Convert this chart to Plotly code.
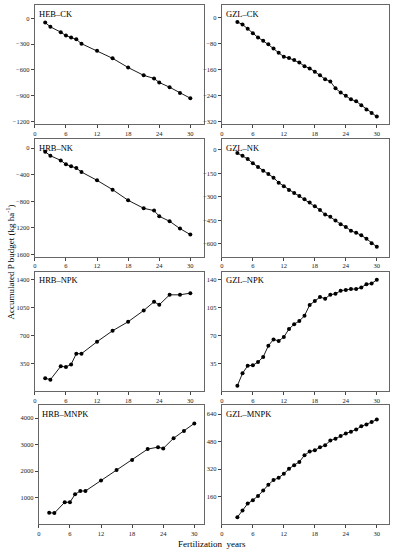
import plotly.graph_objects as go

# ---------------- data ----------------
years_hrb = [2, 3, 5, 6, 7, 8, 9, 12, 15, 18, 21, 23, 24, 26, 28, 30]
years_gzl = list(range(3, 31))

heb_ck = [-50, -100, -162, -202, -225, -245, -296, -379, -466, -573, -664, -700, -747, -802, -870, -930]
hrb_nk = [-55, -115, -185, -245, -275, -300, -360, -485, -625, -785, -905, -940, -1025, -1100, -1210, -1300]
hrb_npk = [163, 146, 313, 304, 337, 471, 471, 621, 758, 871, 1012, 1121, 1083, 1208, 1208, 1229]
hrb_mnpk = [426, 413, 824, 824, 1123, 1248, 1248, 1646, 2045, 2418, 2829, 2904, 2854, 3240, 3514, 3800]

gzl_ck = [-14, -22, -35, -49, -62, -72, -83, -96, -109, -121, -125, -131, -139, -150, -157, -167,
          -178, -190, -197, -218, -231, -241, -252, -258, -270, -283, -294, -305]
gzl_nk = [-21, -38, -59, -87, -110, -134, -155, -178, -210, -233, -257, -276, -295, -316, -337, -360,
          -384, -413, -428, -452, -475, -492, -517, -530, -545, -568, -596, -619]
gzl_npk = [7, 22.5, 32, 32.5, 36.7, 43, 57, 65, 63, 68, 78, 84, 88, 94.6, 108, 113,
           118, 116, 121, 122, 126, 127, 128, 128, 130, 134, 135, 139.6]
gzl_mnpk = [40, 79, 119, 139, 164, 195, 229, 256, 270, 293, 322, 343, 362, 401, 422, 430,
            447, 459, 486, 497, 513, 528, 538, 551, 569, 580, 594, 609]

panel_names = ["HEB–CK", "GZL–CK", "HRB–NK", "GZL–NK", "HRB–NPK", "GZL–NPK", "HRB–MNPK", "GZL–MNPK"]
x_ticks = [0, 6, 12, 18, 24, 30]
y_ticks = [
    [0, -300, -600, -900, -1200],
    [0, -80, -160, -240, -320],
    [0, -400, -800, -1200, -1600],
    [0, -150, -300, -450, -600],
    [350, 700, 1050, 1400],
    [35, 70, 105, 140],
    [1000, 2000, 3000, 4000],
    [160, 320, 480, 640],
]
y_ranges = [
    [-1227, 154], [-327, 38],
    [-1630, 140], [-681, 70],
    [0, 1500], [0, 150],
    [0, 4485], [0, 692],
]

series = [
    (years_hrb, heb_ck), (years_gzl, gzl_ck),
    (years_hrb, hrb_nk), (years_gzl, gzl_nk),
    (years_hrb, hrb_npk), (years_gzl, gzl_npk),
    (years_hrb, hrb_mnpk), (years_gzl, gzl_mnpk),
]

# ---------------- layout geometry (pixels) ----------------
W, H = 394, 550
row_px = [(5, 124), (139, 257), (272, 392), (406, 525)]
col_px = [(33, 203), (221, 389)]
FONT = "Liberation Serif, Times New Roman, serif"

fig = go.Figure()
layout = dict(
    width=W, height=H,
    margin=dict(l=0, r=0, t=0, b=0),
    paper_bgcolor="white", plot_bgcolor="white",
    showlegend=False,
    font=dict(family=FONT, color="black"),
)
annotations = []

for i, (xs, ys) in enumerate(series):
    r, c = divmod(i, 2)
    n = i + 1
    xa = "x" if n == 1 else f"x{n}"
    ya = "y" if n == 1 else f"y{n}"
    x0, x1 = col_px[c]
    if i == 6:
        x0 = 37
    top, bot = row_px[r]
    px_per_unit = 5.21 if c == 0 else 5.19
    xmax = (x1 - x0) / px_per_unit
    fig.add_trace(go.Scatter(
        x=xs, y=ys, xaxis=xa, yaxis=ya, mode="lines+markers",
        line=dict(color="black", width=0.9),
        marker=dict(color="black", size=4, symbol="circle"),
    ))
    axis_common = dict(
        showgrid=False, zeroline=False, showline=True, mirror=True,
        linecolor="#666666", linewidth=1,
        ticks="outside", ticklen=3, tickwidth=0.8, tickcolor="#444444",
        tickfont=dict(size=6.5, family=FONT, color="#222222"),
    )
    layout["xaxis" if n == 1 else f"xaxis{n}"] = dict(
        axis_common, domain=[x0 / W, x1 / W], range=[0, xmax],
        tickvals=x_ticks, anchor=ya,
    )
    layout["yaxis" if n == 1 else f"yaxis{n}"] = dict(
        axis_common, domain=[1 - bot / H, 1 - top / H], range=y_ranges[i],
        tickvals=y_ticks[i], anchor=xa,
    )
    annotations.append(dict(
        text=panel_names[i], xref=f"{xa} domain", yref=f"{ya} domain",
        x=0.01, y=0.985, xanchor="left", yanchor="top", showarrow=False,
        font=dict(size=8.5, family=FONT, color="black"),
    ))

annotations.append(dict(
    text="Fertilization  years", xref="paper", yref="paper",
    x=211 / W, y=1 - 545 / H, xanchor="center", yanchor="middle", showarrow=False,
    font=dict(size=9, family=FONT, color="black"),
))
annotations.append(dict(
    text="Accumulated P budget (kg ha<sup>-1</sup>)", xref="paper", yref="paper",
    x=8 / W, y=1 - 262 / H, xanchor="center", yanchor="middle", showarrow=False,
    textangle=-90,
    font=dict(size=9, family=FONT, color="black"),
))
layout["annotations"] = annotations
fig.update_layout(**layout)
fig.write_html(
    "out.html",
    config={"displayModeBar": False},
    post_script="document.body.style.margin='0';document.body.style.padding='0';",
)
